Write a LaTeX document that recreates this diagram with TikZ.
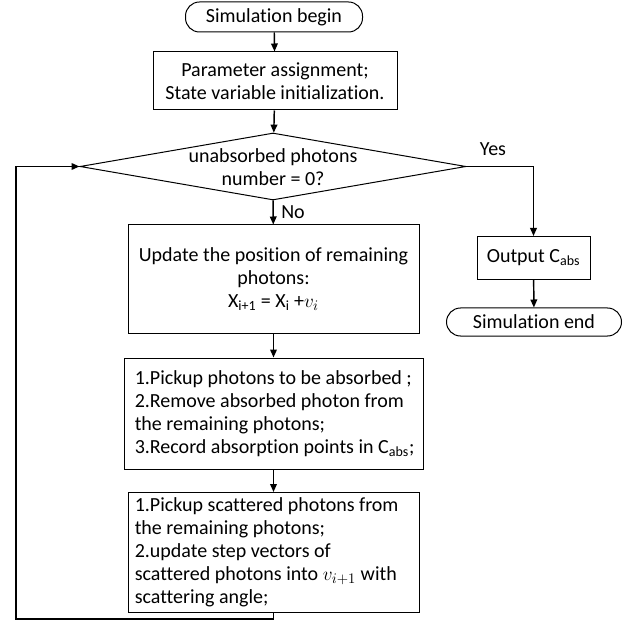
\documentclass[tikz,border=0pt]{standalone}
\usepackage{fontspec}
\setmainfont{Carlito}[Ligatures=NoCommon]
\usetikzlibrary{shapes.geometric,arrows.meta}

\tikzset{
  flow/.style={draw=black, line width=1.1pt, -{Triangle[length=6pt,width=5pt]}},
  terminal/.style={draw, line width=0.75pt, rounded corners=10.5pt, minimum width=132.75pt, minimum height=22.5pt, inner sep=0pt},
  procbox/.style={draw, line width=0.75pt, inner sep=0pt, align=center},
  listbox/.style={draw, line width=0.75pt, inner sep=0pt},
  listtext/.style={anchor=west, align=left, inner sep=0pt},
  cond/.style={draw, diamond, line width=0.75pt, inner sep=0pt, minimum width=289.5pt, minimum height=50.25pt}
}

\begin{document}
\begin{tikzpicture}[x=0.75pt, y=-0.75pt, font=\fontsize{15pt}{17.2pt}\selectfont]
\useasboundingbox (0,0) rectangle (631,623);

\node[terminal] (begin) at (274,17) {Simulation begin};
\node[procbox, minimum width=183pt, minimum height=43.5pt] (param) at (275,81) {Parameter assignment;\\State variable initialization.};
\node[cond] (cond) at (273,166.5) {};
\node (condtext) at (273,167) [align=center] {unabsorbed photons\\number = 0?};

\node[procbox, minimum width=218.25pt, minimum height=81pt] (update) at (273.5,279)
  {Update the position of remaining\\photons:\\X\textsubscript{i+1} = X\textsubscript{i} +$v_i$};

\node[listbox, minimum width=224.25pt, minimum height=83.25pt] (absorb) at (273.5,413.5) {};
\node[listtext] (absorbtext) at ([xshift=8.25pt]absorb.west)
  {1.Pickup photons to be absorbed ;\\2.Remove absorbed photon from\\the remaining photons;\\3.Record absorption points in C\textsubscript{abs};};

\node[listbox, minimum width=218.25pt, minimum height=90pt] (scatter) at (273.5,552.5) {};
\node[listtext] (scattertext) at ([xshift=5.25pt]scatter.west)
  {1.Pickup scattered photons from\\the remaining photons;\\2.update step vectors of\\scattered photons into $v_{i+1}$ with\\scattering angle;};

\node[procbox, minimum width=84.75pt, minimum height=32.25pt] (out) at (533.5,258) {Output C\textsubscript{abs}};
\node[terminal, minimum width=131.25pt, minimum height=21pt] (end) at (534,322) {Simulation end};

\node (yes) at (493,149) {Yes};
\node (no) at (293,212) {No};
\coordinate (back) at (16,619);

\draw[flow] (begin) -- (param);
\draw[flow] (param) -- (cond);
\draw[flow] (cond) -- (update);
\draw[flow] (update) -- (absorb);
\draw[flow] (absorb) -- (scatter);
\draw[flow] (scatter.south) |- (back) |- (cond.west);
\draw[flow] (cond.east) -| (out.north);
\draw[flow] (out) -- (end);
\end{tikzpicture}
\end{document}
